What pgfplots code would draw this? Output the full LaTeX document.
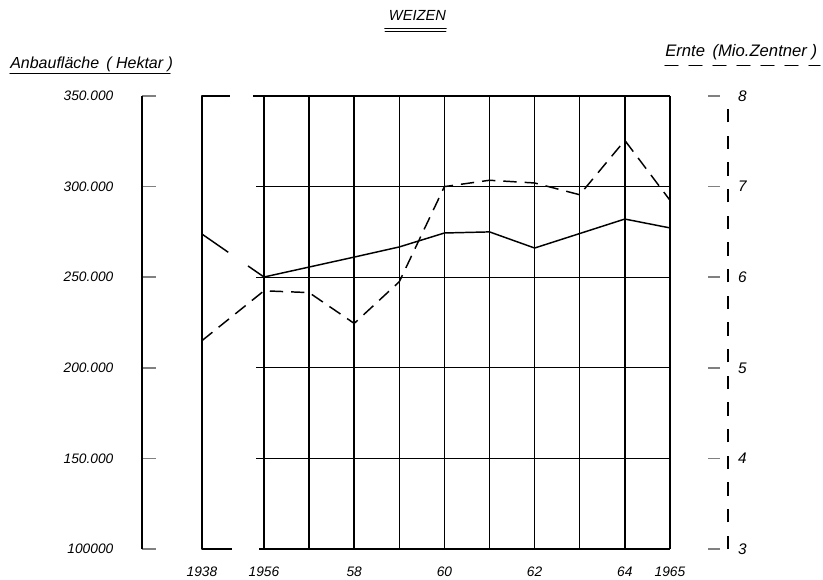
\documentclass[border=0pt]{standalone}
\usepackage{fontspec}
\setmainfont{Liberation Sans}
\usepackage{pgfplots}
\pgfplotsset{compat=1.18}
\begin{document}
\begin{tikzpicture}[line cap=round, line join=round]
\useasboundingbox (-106.5pt,-22.5pt) rectangle (510.75pt,411.75pt);
\pgfplotsset{
  common/.style={
    at={(0,0)}, anchor=south west,
    scale only axis, width=439.5pt, height=339.75pt,
    xmin=-2.705, xmax=10.288,
    clip=false,
    scaled y ticks=false,
    /pgf/number format/assume math mode=true,
    ticklabel style={font=\itshape\fontsize{10.3}{12}\selectfont},
  }
}
% ---------- left axis: Anbaufläche ----------
\begin{axis}[common,
  ymin=100000, ymax=350000,
  axis x line*=bottom, axis y line*=left,
  x axis line style={draw=none},
  xtick={-1.375,0,2,4,6,8,9},
  xticklabels={1938,1956,58,60,62,64,1965},
  xtick style={draw=none},
  xticklabel style={yshift=-10pt},
  ytick={100000,150000,200000,250000,300000,350000},
  yticklabels={100000,150.000,200.000,250.000,300.000,350.000},
  y axis line style={line width=1.2pt},
  ytick style={line width=1.2pt},
  tick align=inside, major tick length=10.5pt,
  yticklabel style={xshift=-18pt},
]
% grid frame
\foreach \i in {0,...,9} {
  \edef\temp{\noexpand\draw[line width=1.1pt] (axis cs:\i,100000) -- (axis cs:\i,350000);}
  \temp
}
\draw[line width=1.1pt] (axis cs:-0.244,350000) -- (axis cs:9,350000);
\draw[line width=1.1pt] (axis cs:-0.11,100000) -- (axis cs:9,100000);
\foreach \v in {150000,200000,250000,300000} {
  \edef\temp{\noexpand\draw[line width=1pt] (axis cs:-0.17,\v) -- (axis cs:9,\v);}
  \temp
}
% 1938 panel
\draw[line width=1.1pt] (axis cs:-0.754,350000) -- (axis cs:-1.375,350000) -- (axis cs:-1.375,100000) -- (axis cs:-0.71,100000);
% data: Anbaufläche (solid)
\addplot[line width=1.1pt, mark=none, dash pattern=on 24pt off 18pt on 60pt off 0pt]
  coordinates {(-1.375,273800) (0,250100)};
\addplot[line width=1.1pt, mark=none] coordinates {
  (0,250100) (1,255600) (2,261100) (3,266700) (4,274400)
  (5,275000) (6,266100) (7,274100) (8,282100) (9,277200)};
\end{axis}
% ---------- right axis: Ernte ----------
\begin{axis}[common,
  ymin=3, ymax=8,
  axis x line=none, axis y line*=right,
  y axis line style={line width=1.5pt, dash pattern=on 10pt off 10pt},
  ytick={3,4,5,6,7,8},
  yticklabels={3,4,5,6,7,8},
  tick align=inside, major tick length=9pt,
  ytick style={line width=1.2pt, xshift=-6pt, solid},
  yticklabel style={xshift=4pt, font=\itshape\fontsize{11.5}{13}\selectfont},
]
\addplot[line width=1.1pt, mark=none, dash pattern=on 10pt off 6pt] coordinates {
  (-1.375,5.30) (0,5.85) (1,5.83) (2,5.49) (3,5.95) (4,7.00)
  (5,7.07) (6,7.04) (7,6.91) (8,7.51) (9,6.85)};
\end{axis}
% ---------- titles ----------
\node[font=\itshape\fontsize{11}{13}\selectfont, inner sep=0pt] at (206.6pt,400pt) {WEIZEN};
\draw[line width=1.3pt] (182.25pt,390.3pt) -- (228pt,390.3pt);
\draw[line width=0.7pt] (182.25pt,387.9pt) -- (228pt,387.9pt);
\node[anchor=west, inner sep=0pt, font=\itshape\fontsize{12}{14}\selectfont] at (-99pt,363.5pt) {Anbaufläche \,( Hektar )};
\draw[line width=0.9pt] (-99pt,356.5pt) -- (21pt,356.5pt);
\node[anchor=west, inner sep=0pt, font=\itshape\fontsize{12.5}{14}\selectfont] at (392.25pt,372.5pt) {Ernte \,(Mio.Zentner )};
\draw[line width=0.9pt, dash pattern=on 9.75pt off 8.25pt] (392.25pt,362.5pt) -- (508.5pt,362.5pt);
\end{tikzpicture}
\end{document}
